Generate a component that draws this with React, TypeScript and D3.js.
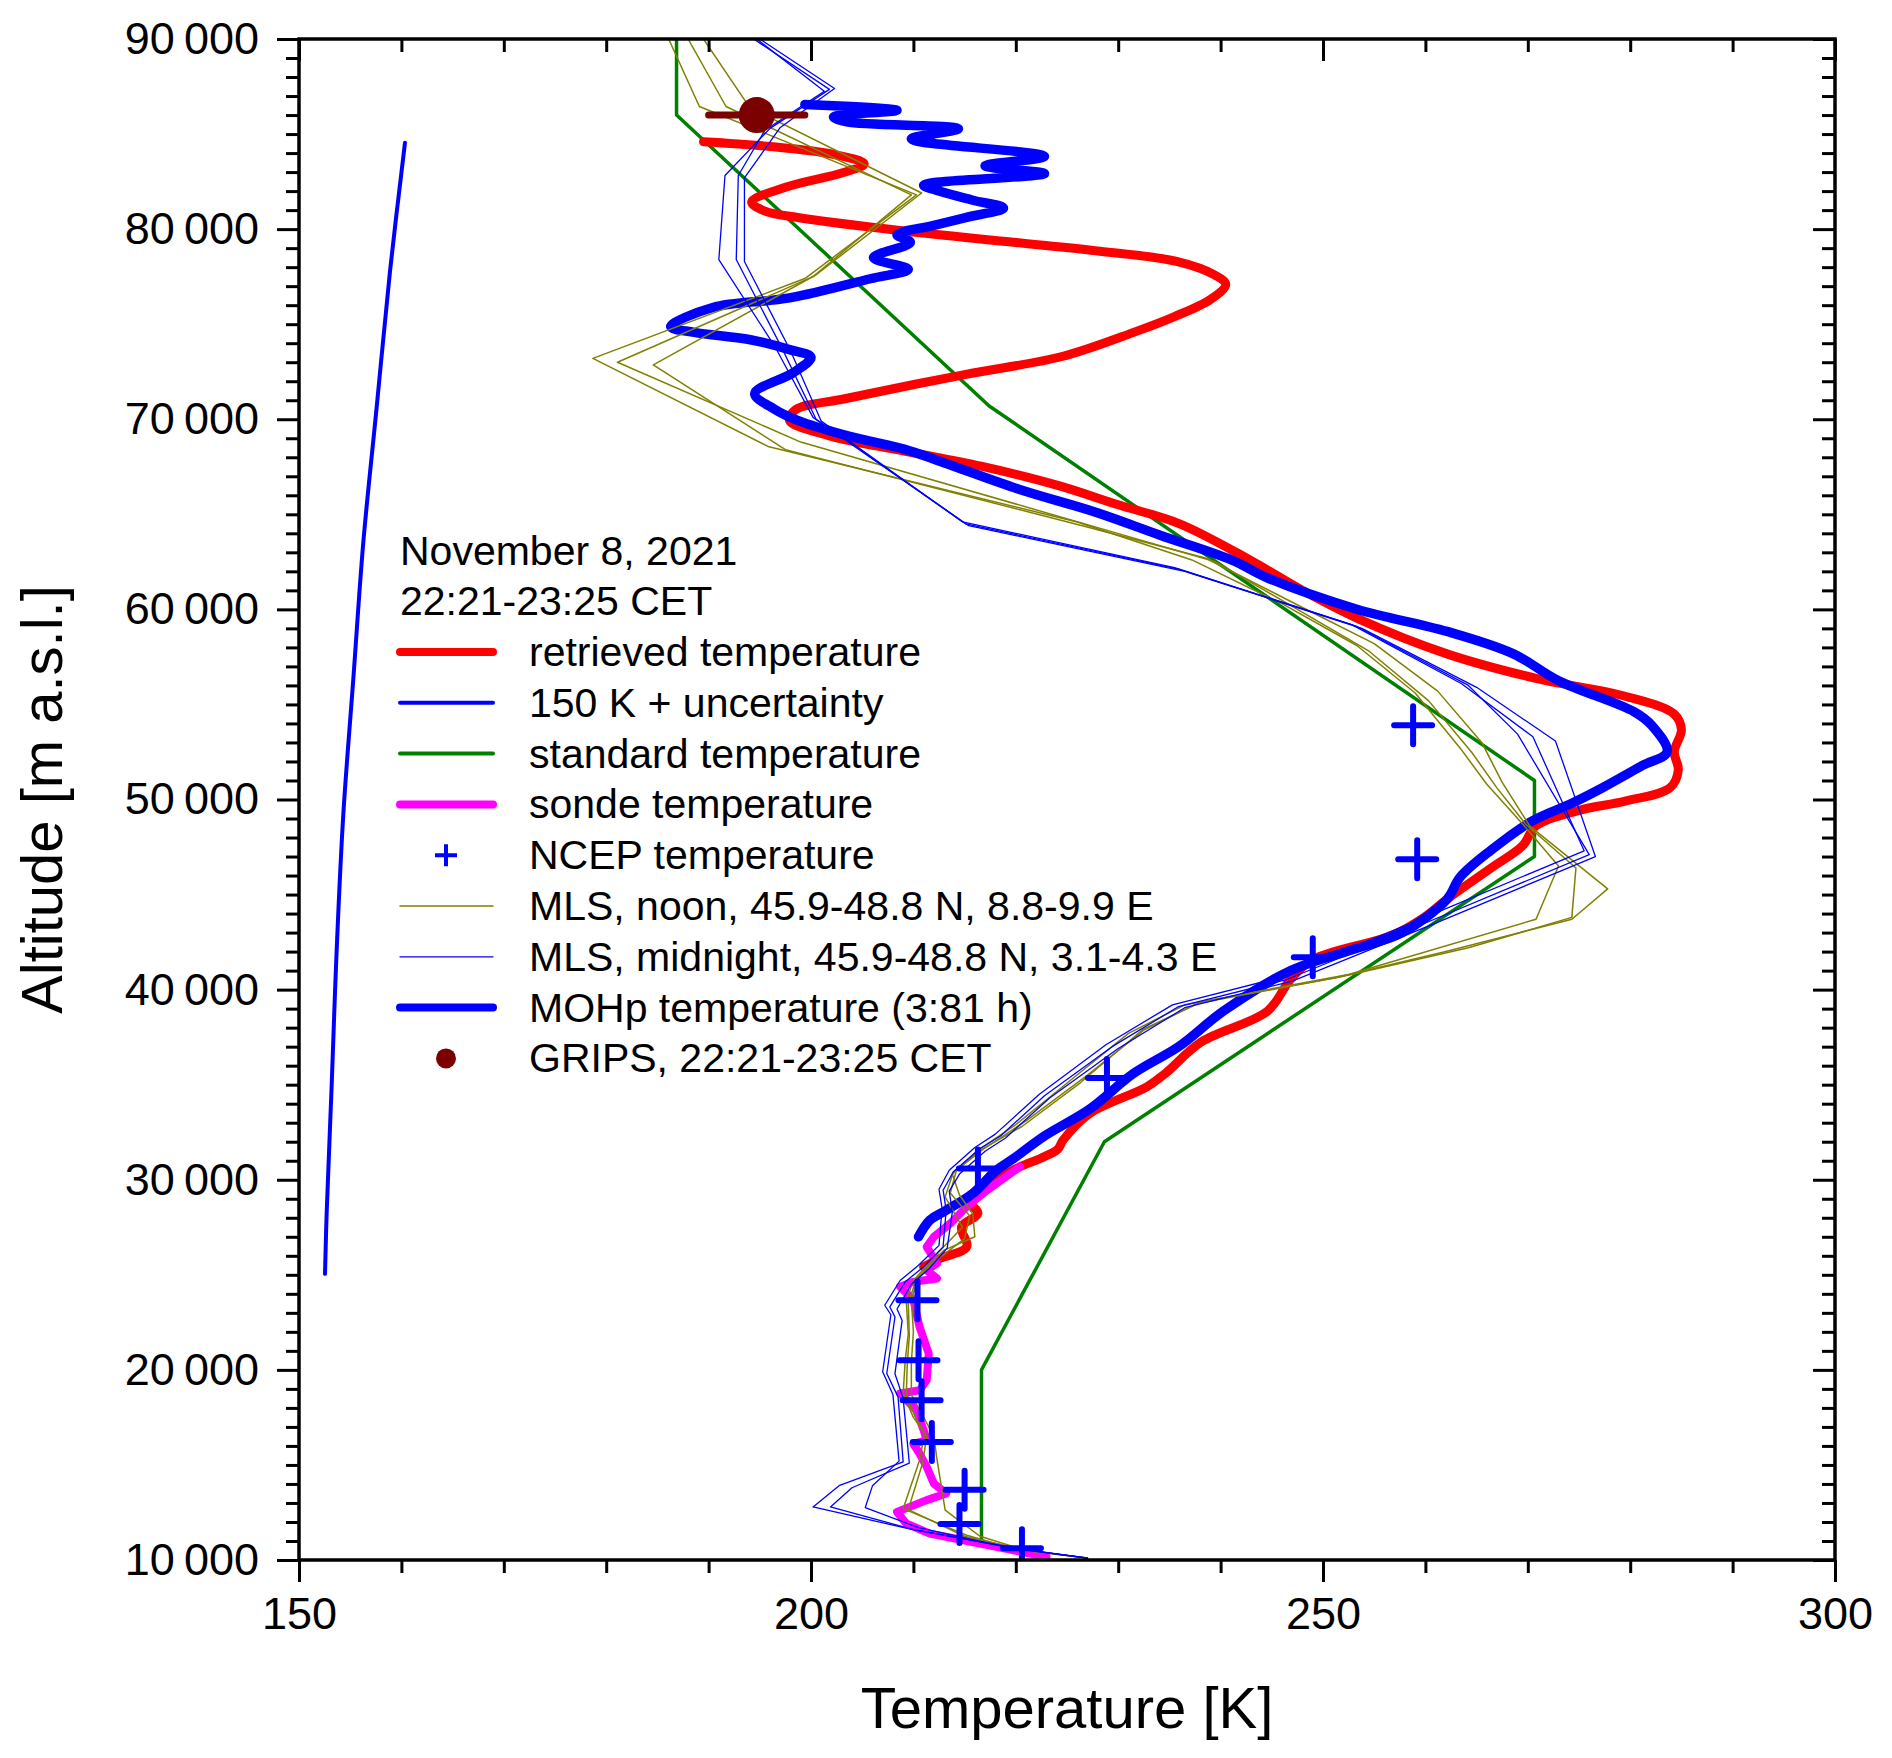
import { useEffect, useRef } from 'react'
import * as d3 from 'd3'

type Pt = [number, number] // [temperature in K, altitude in m]

// MOHp retrieved temperature (red)
const retrieved: Pt[] = [
  [189.5, 84600], [196, 84350], [202, 83950], [205.2, 83430], [203, 82950], [197.5, 82200], [194.2, 81420],
  [195.5, 80950], [198.7, 80610], [209.1, 79900], [220, 79300], [228.2, 78840], [235.7, 78300], [239.4, 77590],
  [240.5, 77090], [239, 76300], [235.5, 75400], [231.5, 74570], [224.5, 73300], [215, 72350], [203.3, 71080],
  [198.5, 70500], [197.9, 69940], [201.7, 69140], [209.1, 68330], [216.6, 67530], [224.1, 66520], [230, 65500],
  [236, 64500], [242.9, 62590], [248, 61000], [253.3, 59540], [262.1, 57660], [270.8, 56370], [279.5, 55430],
  [284.3, 54490], [285.0, 53670], [284.3, 52500], [284.7, 51560], [283.9, 50620], [279.5, 49910], [275.1, 49440],
  [270.8, 48620], [269.5, 47570], [266.4, 46390], [262.1, 44750], [259.9, 43810], [256.8, 42870], [249.0, 41580],
  [246.8, 40520], [244.6, 38880], [238.1, 37240], [234.6, 35590], [232.8, 34890], [227.2, 33480], [224.6, 32070],
  [224.1, 31600], [222.4, 31120], [220.4, 30680], [217.5, 29800], [215.5, 28900], [216.3, 28230], [214.7, 27520],
  [215.2, 26470], [212.6, 25860], [211.0, 25420]
]

// 150 K + uncertainty
const uncertainty: Pt[] = [
  [160.35, 84540], [158.89, 77800], [157.59, 70660], [156.28, 63520], [155.31, 56380], [154.33, 49240],
  [153.68, 42100], [153.19, 34960], [152.7, 28220], [152.54, 25050]
]

// standard atmosphere
const standard: Pt[] = [
  [186.87, 90000], [186.87, 86000], [217.4, 70700], [270.65, 51000], [270.65, 47000], [228.65, 32000],
  [216.65, 20000], [216.65, 11000]
]

// radiosonde
const sonde: Pt[] = [
  [220.4, 30680], [217.2, 29450], [215.2, 28580], [213.6, 27700], [212.0, 27000], [211.3, 26470], [212.3, 25600],
  [211.3, 25240], [212.3, 24810], [210.0, 24630], [208.7, 24370], [210.0, 23670], [210.6, 22260], [211.5, 20860],
  [211.3, 19460], [210.6, 18930], [208.7, 18760], [210.3, 17880], [211.0, 16830], [211.3, 16300], [210.0, 16100],
  [210.6, 15600], [211.3, 14900], [212.0, 14020], [213.2, 13500], [211.3, 13150], [208.4, 12530], [209.3, 11920],
  [211.6, 11390], [214.9, 11040], [218.1, 10690], [221.4, 10340], [223.0, 10160]
]

// NCEP
const ncepTemp = [258.8, 259.2, 249.0, 228.9, 216.3, 210.4, 210.5, 210.8, 211.8, 215.0, 214.5, 220.6]
const ncepAlt = [53900, 46860, 41700, 35350, 30590, 23660, 20500, 18400, 16200, 13700, 11900, 10620]

// MLS noon profiles
const mlsNoon1: Pt[] = [
  [186.1, 90000], [189.1, 86450], [210.3, 81800], [199.4, 77400], [178.7, 73200], [195.9, 68550], [226.0, 64600],
  [237.2, 62600], [246.0, 60300], [253.3, 58100], [259.0, 55600], [263.4, 52700], [266.0, 50800], [269.6, 48650],
  [273.0, 46500], [270.8, 43700], [252.5, 40800], [238.1, 39350], [232.4, 37900], [226.3, 35100], [220.6, 32800],
  [216.5, 31550], [213.9, 30400], [213.1, 29100], [214.8, 27500], [213.0, 26500], [210.0, 24700], [209.3, 23650],
  [209.5, 21900], [209.2, 20500], [209.0, 18750], [210.0, 17500], [211.1, 16650], [210.6, 15250], [209.0, 12700],
  [215.2, 11300], [219.8, 10600], [226.9, 10100]
]
const mlsNoon2: Pt[] = [
  [188.0, 90000], [191.7, 86450], [209.8, 81800], [200.2, 77500], [181.1, 73000], [199.0, 68800], [228.0, 64300],
  [239.5, 62500], [247.5, 60000], [254.5, 57800], [260.3, 55200], [264.5, 52500], [267.0, 50600], [269.8, 48700],
  [274.7, 46400], [274.3, 43800], [264.2, 42200], [252.0, 40700], [237.7, 39270], [232.5, 37870], [227.0, 35500],
  [221.0, 33100], [216.8, 31600], [214.2, 30500], [213.6, 29300], [215.5, 28100], [215.0, 26900], [212.8, 26000],
  [210.3, 24800], [209.5, 23500], [209.6, 21800], [209.4, 20300], [209.3, 18600], [210.3, 17400], [211.3, 16500],
  [210.9, 15100], [209.5, 12650], [215.0, 11250], [220.3, 10550], [227.0, 10100]
]
const mlsNoon3: Pt[] = [
  [189.5, 90000], [194.0, 86400], [210.8, 81900], [200.5, 77600], [184.6, 72860], [197.5, 68400], [226.5, 64400],
  [238.5, 62700], [248.0, 60100], [255.0, 58200], [261.2, 55700], [265.5, 53000], [267.5, 50900], [270.2, 48600],
  [277.8, 45300], [274.3, 43700], [262.0, 42000], [251.0, 40600], [236.5, 39200], [231.0, 37700], [225.5, 35300],
  [220.0, 32900], [216.2, 31500], [213.8, 30300], [214.5, 29200], [215.8, 28200], [216.0, 27000], [213.0, 26300],
  [210.5, 24900], [209.8, 23700], [210.0, 22000], [209.8, 20400], [209.8, 18700], [211.0, 17500], [212.0, 16500],
  [212.3, 15300], [213.1, 12620], [216.5, 11250], [221.0, 10500], [227.0, 10100]
]

// MLS midnight profiles
const mlsNight1: Pt[] = [
  [194.4, 90000], [201.8, 87350], [196.0, 85300], [191.6, 82820], [191.0, 78400], [196.5, 73800], [200.2, 70100],
  [215.1, 64500], [236.0, 62100], [253.3, 59100], [264.2, 56000], [269.0, 53440], [276.0, 47100], [260.3, 43570],
  [246.4, 40520], [235.9, 39110], [229.4, 37000], [222.8, 34420], [218.5, 32300], [216.5, 31640], [213.9, 30420],
  [212.9, 29450], [213.2, 28400], [212.9, 26470], [211.0, 25420], [209.2, 24630], [207.7, 23310], [208.2, 22790],
  [207.4, 19810], [208.5, 18580], [209.0, 15160], [202.8, 13930], [200.2, 12790], [209.5, 11650], [220.0, 10600],
  [227.0, 10100]
]
const mlsNight2: Pt[] = [
  [194.7, 90000], [201.3, 87250], [195.5, 85200], [192.9, 82820], [192.7, 78400], [197.2, 73700], [200.5, 70000],
  [215.4, 64400], [236.5, 62000], [253.8, 59000], [265.0, 55900], [272.7, 53080], [276.6, 47000], [261.0, 43500],
  [247.0, 40450], [236.5, 39050], [230.0, 36900], [223.3, 34300], [219.0, 32200], [217.0, 31500], [214.5, 30300],
  [213.5, 29400], [213.8, 28300], [213.3, 26400], [211.5, 25300], [209.8, 24500], [208.4, 23200], [208.9, 22600],
  [208.2, 19800], [209.0, 18500], [209.6, 15100], [204.0, 13800], [201.9, 12790], [210.0, 11600], [220.5, 10580],
  [227.0, 10100]
]
const mlsNight3: Pt[] = [
  [195.0, 90000], [202.3, 87400], [197.0, 85350], [193.5, 82700], [193.5, 78300], [198.0, 73600], [201.0, 69900],
  [214.8, 64600], [235.5, 62200], [252.8, 59200], [263.5, 56100], [270.5, 53300], [275.5, 47300], [259.5, 43700],
  [245.5, 40600], [235.3, 39200], [228.8, 37100], [222.3, 34500], [218.0, 32400], [216.0, 31700], [213.5, 30500],
  [212.5, 29500], [212.8, 28500], [212.5, 26550], [210.5, 25500], [208.7, 24700], [207.2, 23400], [207.8, 22900],
  [207.0, 19900], [208.0, 18700], [208.6, 15200], [206.0, 13900], [205.3, 12760], [210.5, 11700], [219.5, 10620],
  [227.0, 10100]
]

// MOHp temperature (3:81 h)
const mohp: Pt[] = [
  [199.4, 86550], [208.4, 86250], [202.2, 85900], [203.5, 85640], [214.4, 85280], [209.8, 84740], [222.8, 83830],
  [217.0, 83330], [222.8, 82920], [211.0, 82320], [212.5, 82000], [215.8, 81520], [218.8, 81110], [215.1, 80610],
  [212, 80200], [208.4, 79700], [209.7, 79300], [206.1, 78500], [209.5, 77890], [205.8, 77390], [197.9, 76380],
  [190.4, 75880], [186.3, 74870], [188.6, 74570], [194.2, 74170], [197.9, 73660], [200.0, 73260], [198.3, 72460],
  [194.5, 71350], [196.4, 70540], [198.7, 69940], [203.5, 69140], [209.1, 68430], [212.9, 67730], [220.3, 66320],
  [227.8, 65110], [234.1, 63900], [241.1, 62590], [244.6, 61650], [253.3, 60010], [262.1, 58840], [268.6, 57660],
  [273.0, 56250], [280.4, 54610], [282.1, 53900], [283.6, 52500], [281.2, 51790], [277.3, 50620], [274.3, 49800],
  [270.4, 48860], [266.4, 47330], [263.4, 45920], [262.1, 44750], [257.7, 42990], [253.3, 42170], [246.8, 40990],
  [240.3, 38880], [235.9, 37000], [231.5, 35590], [227.2, 33710], [222.8, 32300], [219.8, 31120], [218.1, 30500],
  [215.8, 29280], [213.2, 28400], [211.6, 27870], [210.5, 27000]
]

// GRIPS airglow temperature with error bar
const gripsTemp = 194.7
const gripsErr = 4.7
const gripsAlt = 86000

const legendTitle = ['November 8, 2021', '22:21-23:25 CET']
const legendLabels = [
  'retrieved temperature',
  '150 K + uncertainty',
  'standard temperature',
  'sonde temperature',
  'NCEP temperature',
  'MLS, noon, 45.9-48.8 N, 8.8-9.9 E',
  'MLS, midnight, 45.9-48.8 N, 3.1-4.3 E',
  'MOHp temperature (3:81 h)',
  'GRIPS, 22:21-23:25 CET'
]

const W = 1892
const H = 1758
const plot = { left: 299, right: 1835, top: 39, bottom: 1560 }
const font = '"Liberation Sans", Arial, sans-serif'

const RED = '#ff0000'
const BLUE = '#0000ff'
const GREEN = '#008000'
const MAGENTA = '#ff00ff'
const OLIVE = '#808000'
const MAROON = '#7b0000'

const App = () => {
  const svgRef = useRef<SVGSVGElement>(null)

  useEffect(() => {
    if (!svgRef.current) return
    const svg = d3.select(svgRef.current)
    svg.selectAll('*').remove()

    const x = d3.scaleLinear().domain([150, 300]).range([plot.left, plot.right])
    const y = d3.scaleLinear().domain([10000, 90000]).range([plot.bottom, plot.top])
    const line = d3.line<Pt>().x(d => x(d[0])).y(d => y(d[1]))
    const smooth = d3.line<Pt>().x(d => x(d[0])).y(d => y(d[1])).curve(d3.curveCatmullRom.alpha(0.5))

    svg.append('rect').attr('width', W).attr('height', H).attr('fill', '#fff')

    svg.append('defs').append('clipPath').attr('id', 'plotClip')
      .append('rect')
      .attr('x', plot.left).attr('y', plot.top)
      .attr('width', plot.right - plot.left).attr('height', plot.bottom - plot.top)

    const g = svg.append('g').attr('clip-path', 'url(#plotClip)')

    const drawLine = (data: Pt[], color: string, width: number, gen = line) => {
      g.append('path')
        .attr('d', gen(data))
        .attr('fill', 'none')
        .attr('stroke', color)
        .attr('stroke-width', width)
        .attr('stroke-linejoin', 'round')
        .attr('stroke-linecap', 'round')
    }

    drawLine(standard, GREEN, 3.5)
    drawLine(retrieved, RED, 9, smooth)
    drawLine(sonde, MAGENTA, 8)
    drawLine(mohp, BLUE, 9.5, smooth)
    ;[mlsNoon1, mlsNoon2, mlsNoon3].forEach(d => drawLine(d, OLIVE, 1.5))
    ;[mlsNight1, mlsNight2, mlsNight3].forEach(d => drawLine(d, BLUE, 1.3))
    drawLine(uncertainty, BLUE, 4, smooth)

    // NCEP crosses
    g.selectAll('.ncep')
      .data(ncepTemp.map((t, i) => [t, ncepAlt[i]] as Pt))
      .enter()
      .append('path')
      .attr('d', 'M-19,0H19M0,-19V19')
      .attr('transform', d => `translate(${x(d[0])},${y(d[1])})`)
      .attr('stroke', BLUE)
      .attr('stroke-width', 6)
      .attr('stroke-linecap', 'round')

    // GRIPS point
    g.append('line')
      .attr('x1', x(gripsTemp - gripsErr)).attr('x2', x(gripsTemp + gripsErr))
      .attr('y1', y(gripsAlt)).attr('y2', y(gripsAlt))
      .attr('stroke', MAROON).attr('stroke-width', 7).attr('stroke-linecap', 'round')
    g.append('circle')
      .attr('cx', x(gripsTemp)).attr('cy', y(gripsAlt)).attr('r', 18)
      .attr('fill', MAROON)

    // axes
    const majorX = [150, 200, 250, 300]
    const minorX = d3.range(160, 300, 10).filter(v => v % 50 !== 0)
    const majorY = d3.range(10000, 90001, 10000)
    const minorY = d3.range(11000, 90000, 1000).filter(v => v % 10000 !== 0)
    const yFmt = (v: number) => `${Math.round(v / 1000)}\u2009000`

    const style = (sel: d3.Selection<SVGGElement, unknown, null, undefined>) => {
      sel.select('.domain').remove()
      sel.selectAll('line').attr('stroke', '#000').attr('stroke-width', 3)
      sel.selectAll('text')
        .attr('fill', '#000')
        .style('font-family', font)
        .style('font-size', '45px')
    }

    const axes = svg.append('g')
    axes.append('g').attr('transform', `translate(0,${plot.bottom})`)
      .call(d3.axisBottom(x).tickValues(majorX).tickSize(22).tickPadding(15).tickFormat(d3.format('d')))
      .call(style)
    axes.append('g').attr('transform', `translate(0,${plot.bottom})`)
      .call(d3.axisBottom(x).tickValues(minorX).tickSize(13).tickFormat(() => ''))
      .call(style)
    axes.append('g').attr('transform', `translate(0,${plot.top})`)
      .call(d3.axisTop(x).tickValues(majorX).tickSize(-22).tickFormat(() => ''))
      .call(style)
    axes.append('g').attr('transform', `translate(0,${plot.top})`)
      .call(d3.axisTop(x).tickValues(minorX).tickSize(-13).tickFormat(() => ''))
      .call(style)
    axes.append('g').attr('transform', `translate(${plot.left},0)`)
      .call(d3.axisLeft(y).tickValues(majorY).tickSize(22).tickPadding(18).tickFormat(d => yFmt(+d)))
      .call(style)
    axes.append('g').attr('transform', `translate(${plot.left},0)`)
      .call(d3.axisLeft(y).tickValues(minorY).tickSize(13).tickFormat(() => ''))
      .call(style)
    axes.append('g').attr('transform', `translate(${plot.right},0)`)
      .call(d3.axisRight(y).tickValues(majorY).tickSize(-22).tickFormat(() => ''))
      .call(style)
    axes.append('g').attr('transform', `translate(${plot.right},0)`)
      .call(d3.axisRight(y).tickValues(minorY).tickSize(-13).tickFormat(() => ''))
      .call(style)

    axes.append('rect')
      .attr('x', plot.left).attr('y', plot.top)
      .attr('width', plot.right - plot.left).attr('height', plot.bottom - plot.top)
      .attr('fill', 'none').attr('stroke', '#000').attr('stroke-width', 3.5)

    // axis titles
    svg.append('text')
      .attr('x', (plot.left + plot.right) / 2).attr('y', 1728)
      .attr('text-anchor', 'middle')
      .style('font-family', font).style('font-size', '58px')
      .text('Temperature [K]')
    svg.append('text')
      .attr('transform', `translate(62,${(plot.top + plot.bottom) / 2}) rotate(-90)`)
      .attr('text-anchor', 'middle')
      .style('font-family', font).style('font-size', '58px')
      .text('Altitude [m a.s.l.]')

    // legend
    const legend = svg.append('g')
    legendTitle.forEach((t, i) => {
      legend.append('text')
        .attr('x', 400).attr('y', 565 + i * 50)
        .style('font-family', font).style('font-size', '41px')
        .text(t)
    })
    const rowY = (i: number) => 652 + i * 50.8
    const sampleStyles: { color: string; width: number }[] = [
      { color: RED, width: 8 },
      { color: BLUE, width: 4 },
      { color: GREEN, width: 4 },
      { color: MAGENTA, width: 8 },
      { color: BLUE, width: 0 },
      { color: OLIVE, width: 1.5 },
      { color: BLUE, width: 1.3 },
      { color: BLUE, width: 8 },
      { color: MAROON, width: 0 }
    ]
    legendLabels.forEach((label, i) => {
      const yy = rowY(i)
      const s = sampleStyles[i]
      if (s.width > 0) {
        legend.append('line')
          .attr('x1', 400).attr('x2', 493).attr('y1', yy).attr('y2', yy)
          .attr('stroke', s.color).attr('stroke-width', s.width).attr('stroke-linecap', 'round')
      } else if (i === 4) {
        legend.append('path')
          .attr('d', `M435,${yy}H457M446,${yy - 11}V${yy + 11}`)
          .attr('stroke', BLUE).attr('stroke-width', 4)
      } else {
        legend.append('circle').attr('cx', 446).attr('cy', yy).attr('r', 10).attr('fill', MAROON)
      }
      legend.append('text')
        .attr('x', 529).attr('y', yy + 14)
        .style('font-family', font).style('font-size', '41px')
        .text(label)
    })
  }, [])

  return (
    <svg
      ref={svgRef}
      width={W}
      height={H}
      style={{ position: 'absolute', left: 0, top: 0, display: 'block' }}
    />
  )
}

export default App
